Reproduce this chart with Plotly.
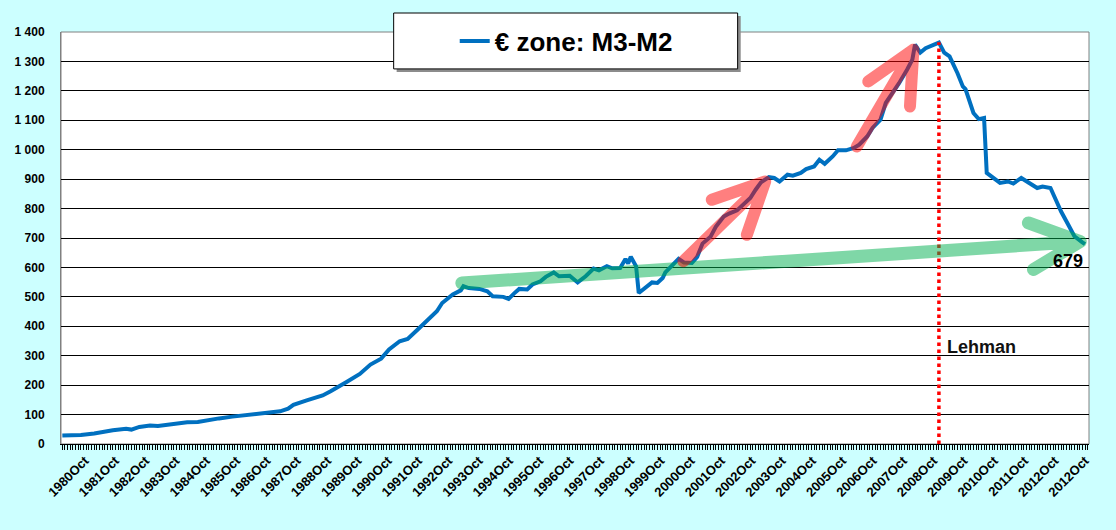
import numpy as np
import plotly.graph_objects as go

# month index counted from 1980Oct
months = [0, 7, 12, 15, 19, 24, 26, 29, 33, 36, 39, 43, 47, 51, 54, 59, 64, 70, 74, 79,
          82, 85, 87, 92, 96, 98, 101, 103, 107, 112, 116, 120, 123, 127, 130, 134, 138, 141, 143, 147,
          150, 151, 153, 157, 160, 162, 166, 168, 170, 172, 175, 177, 180, 182, 185, 187, 191, 194, 197, 200,
          202, 205, 207, 210, 212, 213, 214, 216, 217, 219, 221, 222, 224, 226, 227, 230, 232, 234, 237, 239,
          241, 244, 246, 249, 251, 254, 256, 259, 261, 263, 266, 268, 270, 273, 275, 278, 280, 283, 285, 287,
          290, 292, 295, 298, 300, 303, 305, 308, 310, 313, 315, 318, 320, 321, 323, 325, 328, 330, 332, 334,
          337, 339, 340, 343, 345, 347, 348, 351, 353, 356, 358, 361, 364, 367, 369, 372, 374, 376, 379, 381,
          384, 385]
m3_m2 = [29, 31, 36, 42, 47, 52, 49, 58, 63, 61, 65, 69, 74, 75, 80, 87, 93, 98, 101, 108,
         111, 120, 133, 148, 161, 165, 179, 191, 211, 238, 270, 290, 321, 349, 357, 391, 423, 451, 479, 508,
         522, 536, 530, 527, 519, 502, 500, 493, 511, 527, 525, 542, 553, 568, 583, 570, 572, 549, 570, 596,
         590, 604, 597, 598, 629, 613, 636, 604, 513, 527, 538, 549, 547, 564, 583, 610, 629, 617, 615, 636,
         681, 704, 738, 773, 783, 794, 810, 836, 864, 889, 907, 904, 892, 915, 912, 921, 934, 943, 966, 952,
         977, 998, 998, 1006, 1017, 1045, 1074, 1102, 1159, 1198, 1226, 1272, 1306, 1357, 1330, 1345, 1357, 1364, 1330, 1317,
         1260, 1215, 1206, 1125, 1104, 1108, 921, 898, 887, 892, 885, 904, 887, 870, 875, 870, 830, 790, 740, 706,
         685, 679]

tick_labels = [f"{y}Oct" for y in range(1980, 2013)] + ["2012Oct"]
lehman_month = 330
last_value = 679

tick_pos = np.linspace(8.5, 385, len(tick_labels))

fig = go.Figure()
fig.add_trace(go.Scatter(x=months, y=m3_m2, mode="lines", name="€ zone: M3-M2",
                         line=dict(color="#0070C0", width=4)))

red = "rgba(255,0,0,0.5)"
green = "rgba(0,176,80,0.5)"
shapes = [
    # plot frame
    dict(type="rect", xref="paper", yref="paper", x0=0, x1=1, y0=0, y1=1,
         line=dict(color="#808080", width=1), layer="between"),
    # Lehman marker
    dict(type="line", x0=lehman_month, x1=lehman_month, y0=0, y1=1365,
         line=dict(color="#FF0000", width=3.5, dash="dot")),
    # trend arrows
    dict(type="path", path="M150.4,547 L383.2,688 M363.7,751 L383.2,688 L365.6,593",
         line=dict(color=green, width=13), fillcolor="rgba(0,0,0,0)"),
    dict(type="path", path="M233.8,621 L264.6,892 M244.5,830 L264.6,892 L257.7,711",
         line=dict(color=red, width=12), fillcolor="rgba(0,0,0,0)"),
    dict(type="path", path="M299.1,1011 L320.4,1340 M303.4,1232 L320.4,1340 L319.1,1147",
         line=dict(color=red, width=12), fillcolor="rgba(0,0,0,0)"),
    # legend box with shadow
    dict(type="rect", xref="paper", yref="paper", x0=0.3265, x1=0.6612, y0=0.9031, y1=1.0388,
         fillcolor="#8C8C8C", line=dict(width=0), layer="above"),
    dict(type="rect", xref="paper", yref="paper", x0=0.3236, x1=0.6582, y0=0.9104, y1=1.0461,
         fillcolor="white", line=dict(color="black", width=1), layer="above"),
]

fig.update_layout(
    width=1116, height=530,
    margin=dict(l=61, r=27, t=32, b=86),
    paper_bgcolor="#CCFFFF",
    plot_bgcolor="white",
    separators=". ",
    font=dict(family="Arial, Liberation Sans, sans-serif", color="black"),
    shapes=shapes,
    showlegend=True,
    legend=dict(x=0.383, y=0.978, xanchor="left", yanchor="middle",
                bgcolor="rgba(0,0,0,0)", borderwidth=0,
                font=dict(size=26, weight="bold", color="black")),
    annotations=[
        dict(x=lehman_month, y=330, xref="x", yref="y", text="Lehman", showarrow=False,
             xanchor="left", xshift=6, font=dict(size=18, weight="bold", color="#111111")),
        dict(x=385, y=623, xref="x", yref="y", text=str(last_value), showarrow=False,
             xanchor="right", font=dict(size=18, weight="bold", color="black")),
    ],
)

fig.update_xaxes(range=[-0.5, 386.5], tickvals=tick_pos, ticktext=tick_labels,
                 tickangle=-45, ticks="", showgrid=False, zeroline=False,
                 showline=True, linecolor="black", linewidth=1, ticklabelstandoff=3,
                 tickfont=dict(size=13, weight="bold"),
                 minor=dict(tick0=0, dtick=1, ticks="outside", ticklen=5,
                            tickcolor="black", tickwidth=1, showgrid=False))
fig.update_yaxes(range=[0, 1400], dtick=100, tickformat=",d", showgrid=True,
                 gridcolor="black", gridwidth=1, zeroline=False,
                 showline=True, linecolor="#808080", ticks="", ticklabelstandoff=13,
                 tickfont=dict(size=12, weight="bold"))

# page without body margin; rounded ends on the arrows
post = (
    "document.body.style.margin='0';"
    "document.body.style.background='#CCFFFF';"
    "document.querySelectorAll('.shapelayer path').forEach(function(p){"
    "if(parseFloat(p.style.strokeWidth)>=12){p.style.strokeLinecap='round';"
    "p.style.strokeLinejoin='round';}});"
)

fig.write_html("out.html", post_script=post, config={"displayModeBar": False})
